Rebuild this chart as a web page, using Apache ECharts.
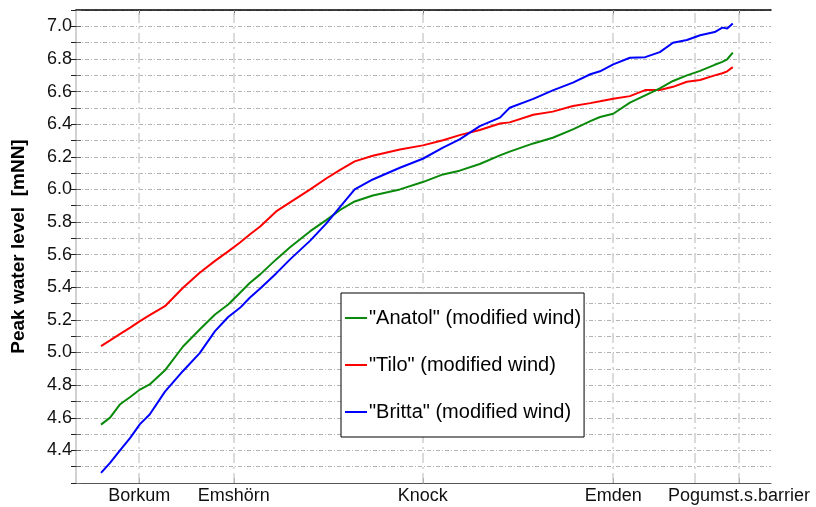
<!DOCTYPE html>
<html>
<head>
<meta charset="utf-8">
<script src="https://cdn.jsdelivr.net/npm/echarts@6/dist/echarts.min.js"></script>
<style>
  html, body { margin: 0; padding: 0; background: #fff; }
  #chart { width: 816px; height: 507px; }
</style>
</head>
<body>
<div id="chart"></div>
<script>
// distance along the estuary (arbitrary km scale)
const dist = [3.6, 4.9, 6.3, 7.8, 9.2, 10.6, 12.8, 15.4, 17.8, 20.0, 21.9, 23.6, 25.0, 26.5,
  28.8, 30.8, 33.7, 36.0, 38.0, 40.1, 42.7, 46.6, 49.9, 52.8, 55.2, 58.1, 61.0, 62.4, 65.8,
  68.6, 71.5, 74.0, 75.4, 77.3, 79.7, 81.9, 84.0, 85.9, 87.9, 89.8, 91.9, 93.0, 93.7, 94.5]

const anatol = [4.558, 4.601, 4.681, 4.727, 4.773, 4.804, 4.891, 5.037, 5.141, 5.233, 5.294, 5.366,
  5.426, 5.479, 5.571, 5.645, 5.744, 5.812, 5.874, 5.926, 5.963, 6.000, 6.045, 6.092, 6.115,
  6.156, 6.209, 6.232, 6.282, 6.317, 6.368, 6.419, 6.444, 6.464, 6.532, 6.577, 6.620, 6.665,
  6.699, 6.727, 6.764, 6.782, 6.798, 6.839]

const tilo = [5.039, 5.074, 5.113, 5.153, 5.192, 5.229, 5.284, 5.397, 5.489, 5.562, 5.620, 5.675,
  5.724, 5.773, 5.865, 5.920, 6.000, 6.067, 6.120, 6.172, 6.206, 6.245, 6.270, 6.301, 6.333,
  6.364, 6.404, 6.411, 6.458, 6.477, 6.511, 6.529, 6.540, 6.556, 6.572, 6.609, 6.610, 6.629,
  6.660, 6.671, 6.699, 6.712, 6.724, 6.750]

const britta = [4.262, 4.323, 4.399, 4.477, 4.561, 4.620, 4.760, 4.887, 4.996, 5.131, 5.218, 5.274,
  5.336, 5.393, 5.485, 5.571, 5.686, 5.790, 5.893, 6.000, 6.061, 6.133, 6.188, 6.256, 6.307,
  6.388, 6.440, 6.501, 6.555, 6.607, 6.655, 6.706, 6.724, 6.767, 6.807, 6.811, 6.842, 6.899,
  6.916, 6.945, 6.965, 6.992, 6.986, 7.017]

// stations on the x axis
const stationKm = [9.1, 22.7, 49.9, 77.3, 95.4]
const stationNames = ['Borkum', 'Emshörn', 'Knock', 'Emden', 'Pogumst.s.barrier']
const guideKm = [9.1, 22.7, 49.9, 77.3, 89.1, 95.4]

const seriesNames = ['"Anatol" (modified wind)', '"Tilo" (modified wind)', '"Britta" (modified wind)']

const font = 'Liberation Sans, Arial, sans-serif'

function pairs(ys) {
  return ys.map((y, i) => [dist[i], y])
}

const chart = echarts.init(document.getElementById('chart'))

const xBase = {
  type: 'value',
  min: 0,
  max: 100,
  splitLine: { show: false },
}

const yBase = {
  type: 'value',
  min: 4.2,
  max: 7.1,
  interval: 0.1,
}

let option = {
  animation: false,
  backgroundColor: '#fff',
  grid: { left: 76, right: 45, top: 10, bottom: 24 },
  legend: {
    data: seriesNames,
    orient: 'vertical',
    left: 341,
    top: 293,
    padding: [15, 3, 15, 4],
    itemGap: 27,
    itemWidth: 22,
    itemHeight: 2,
    icon: 'rect',
    backgroundColor: '#fff',
    borderColor: '#000',
    borderWidth: 1,
    borderRadius: 0,
    textStyle: { fontFamily: font, fontSize: 20, color: '#000', padding: [0, 0, 0, -3] },
  },
  xAxis: [
    {
      ...xBase,
      position: 'bottom',
      axisLine: { lineStyle: { color: '#555', width: 1 } },
      axisTick: { inside: true, length: 5, customValues: stationKm, lineStyle: { color: '#555' } },
      axisLabel: {
        customValues: stationKm,
        margin: 4,
        fontFamily: font,
        fontSize: 18,
        color: '#111',
        formatter: (v) => {
          const i = stationKm.findIndex((k) => Math.abs(k - v) < 0.01)
          return i >= 0 ? stationNames[i] : ''
        },
      },
    },
    {
      ...xBase,
      position: 'top',
      axisLine: { lineStyle: { color: '#000', width: 1.5 } },
      axisTick: { inside: true, length: 5, customValues: stationKm, lineStyle: { color: '#777' } },
      axisLabel: { show: false },
    },
  ],
  yAxis: [
    {
      ...yBase,
      position: 'left',
      name: 'Peak water level  [mNN]',
      nameLocation: 'middle',
      nameGap: 48,
      nameTextStyle: { fontFamily: font, fontSize: 19, fontWeight: 'bold', color: '#000' },
      axisLine: { show: true, lineStyle: { color: '#666', width: 1 } },
      axisTick: { show: true, inside: true, length: 5, lineStyle: { color: '#666' } },
      axisLabel: {
        margin: 4,
        fontFamily: font,
        fontSize: 18,
        color: '#111',
        formatter: (v) => {
          const t = Math.round(v * 10)
          if (t % 2 !== 0 || t <= 42) return ''
          return (t / 10).toFixed(1)
        },
      },
      splitLine: { show: true, lineStyle: { color: '#b4b4b4', width: 1, type: [4, 2, 1, 2] } },
    },
    {
      ...yBase,
      position: 'right',
      axisLine: { show: true, lineStyle: { color: '#d0d0d0', width: 2 } },
      axisTick: { show: true, inside: true, length: 5, lineStyle: { color: '#222' } },
      axisLabel: { show: false },
      splitLine: { show: false },
    },
  ],
  series: [
    {
      // station guide lines (dash-dot, behind the curves)
      type: 'line',
      name: 'guides',
      data: [],
      z: 1,
      silent: true,
      markLine: {
        z: 1,
        silent: true,
        symbol: ['none', 'none'],
        label: { show: false },
        lineStyle: { color: '#cfcfcf', width: 1.5, type: [10, 4, 2, 4] },
        data: guideKm.map((k) => ({ xAxis: k })),
      },
    },
    {
      name: seriesNames[1],
      type: 'line',
      data: pairs(tilo),
      symbol: 'none',
      z: 3,
      lineStyle: { color: '#ff0000', width: 2 },
      itemStyle: { color: '#ff0000' },
    },
    {
      name: seriesNames[0],
      type: 'line',
      data: pairs(anatol),
      symbol: 'none',
      z: 3,
      lineStyle: { color: '#0a8a0a', width: 2 },
      itemStyle: { color: '#0a8a0a' },
    },
    {
      name: seriesNames[2],
      type: 'line',
      data: pairs(britta),
      symbol: 'none',
      z: 3,
      lineStyle: { color: '#0000ff', width: 2 },
      itemStyle: { color: '#0000ff' },
    },
  ],
}

chart.setOption(option)
</script>
</body>
</html>
